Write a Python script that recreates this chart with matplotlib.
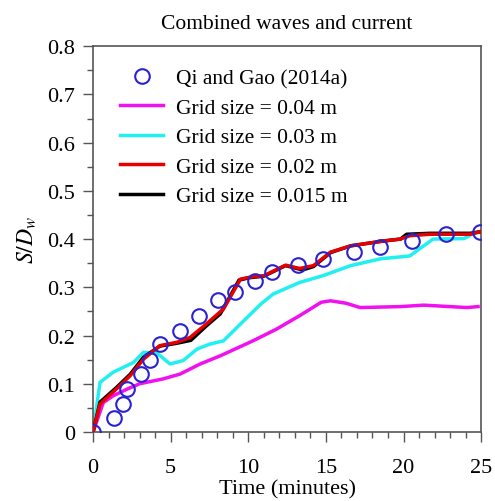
import numpy as np
from matplotlib import pyplot as plt
from matplotlib.ticker import MultipleLocator, FuncFormatter

plt.rcParams['font.family'] = ['Liberation Serif', 'DejaVu Serif']
plt.rcParams['mathtext.fontset'] = 'stix'

# Experimental data (Qi and Gao 2014a)
t_exp = [0, 1.35, 1.95, 2.2, 3.1, 3.7, 4.3, 5.6, 6.83, 8.08, 9.17, 10.46,
         11.5, 13.2, 14.8, 16.78, 18.5, 20.57, 22.75, 24.9]
s_exp = [0, 0.029, 0.058, 0.09, 0.12, 0.149, 0.182, 0.21, 0.241, 0.274,
         0.291, 0.314, 0.331, 0.346, 0.358, 0.374, 0.383, 0.396, 0.41, 0.415]

# Grid size = 0.04 m
t_04 = [0, 0.66, 1.3, 2.2, 3.0, 4.5, 5.6, 6.9, 8.2, 10.3, 11.8, 13.3, 14.7,
        15.3, 16.3, 17.2, 19.8, 21.3, 24.1, 24.8]
s_04 = [0, 0.061, 0.075, 0.089, 0.1, 0.11, 0.12, 0.141, 0.158, 0.189, 0.213,
        0.241, 0.269, 0.272, 0.267, 0.258, 0.26, 0.263, 0.258, 0.26]

# Grid size = 0.03 m
t_03 = [0, 0.45, 1.3, 2.6, 3.24, 4.1, 4.96, 5.8, 6.7, 7.5, 8.4, 9.5, 10.8,
        11.6, 13.3, 14.8, 16.6, 18.5, 20.4, 21.9, 23.9, 24.4, 24.9]
s_03 = [0, 0.103, 0.124, 0.144, 0.165, 0.164, 0.141, 0.148, 0.172, 0.182,
        0.189, 0.224, 0.265, 0.286, 0.31, 0.324, 0.345, 0.359, 0.365, 0.4,
        0.401, 0.41, 0.415]

# Grid size = 0.02 m
t_02 = [0, 0.45, 1.5, 2.4, 3.25, 4.3, 5.4, 6.25, 7.3, 8.4, 9.5, 10.1, 11.0,
        12.4, 13.3, 14.2, 15.3, 16.6, 18.7, 19.8, 20.4, 21.7, 24.3, 24.9]
s_02 = [0, 0.058, 0.089, 0.117, 0.151, 0.179, 0.186, 0.196, 0.224, 0.255,
        0.317, 0.321, 0.324, 0.346, 0.339, 0.345, 0.373, 0.386, 0.396, 0.4,
        0.407, 0.41, 0.41, 0.415]

# Grid size = 0.015 m
t_015 = [0, 0.45, 1.5, 2.4, 3.25, 4.3, 5.4, 6.3, 7.3, 8.2, 9.4, 10.1, 11.0,
         12.4, 13.5, 14.2, 15.3, 16.6, 18.7, 19.8, 20.2, 21.7, 24.3, 24.9]
s_015 = [0, 0.062, 0.092, 0.12, 0.155, 0.178, 0.184, 0.19, 0.22, 0.245,
         0.315, 0.32, 0.323, 0.345, 0.336, 0.343, 0.372, 0.386, 0.396, 0.4,
         0.41, 0.412, 0.412, 0.415]

fig = plt.figure(figsize=(4.95, 5.02), dpi=100)
ax = fig.add_axes([0.188, 0.1375, 0.784, 0.7685])

ax.plot(t_exp, s_exp, 'o', mfc='none', mec='#2a22d0', ms=10.5, mew=1.5,
        label='Qi and Gao (2014a)', zorder=5)
ax.plot(t_04, s_04, color='#f010f0', lw=2.5, label='Grid size = 0.04 m')
ax.plot(t_03, s_03, color='#20f0f0', lw=2.5, label='Grid size = 0.03 m')
ax.plot(t_015, s_015, color='black', lw=2.5, zorder=3)
ax.plot(t_02, s_02, color='#e60000', lw=2.5, label='Grid size = 0.02 m', zorder=4)
ax.plot([], [], color='black', lw=2.5, label='Grid size = 0.015 m')

ax.set_xlim(0, 25)
ax.set_ylim(0, 0.8)
ax.xaxis.set_major_locator(MultipleLocator(5))
ax.xaxis.set_minor_locator(MultipleLocator(1))
ax.yaxis.set_major_locator(MultipleLocator(0.1))
ax.yaxis.set_minor_locator(MultipleLocator(0.05))
ax.yaxis.set_major_formatter(FuncFormatter(lambda v, p: '0' if abs(v) < 1e-9 else '%.1f' % v))

for s in ax.spines.values():
    s.set_color('#555555')
    s.set_linewidth(1.2)
ax.tick_params(which='major', direction='out', length=7, width=1, color='#555555',
               labelsize=16)
ax.tick_params(axis='x', which='major', pad=12)
ax.tick_params(axis='y', which='major', pad=6)
ax.tick_params(which='minor', direction='out', length=4, width=1, color='#555555')

ax.set_title('Combined waves and current', fontsize=15.5, pad=13)
ax.set_xlabel('Time (minutes)', fontsize=16, labelpad=1)
ax.set_ylabel('$S/D_w$', fontsize=17, labelpad=6)

ax.legend(loc='upper left', bbox_to_anchor=(0.07, 0.943), frameon=False,
          fontsize=15.5, borderpad=0, labelspacing=0.44, handlelength=2.0,
          handletextpad=0.6, borderaxespad=0)

plt.savefig('out.png', dpi=100)
